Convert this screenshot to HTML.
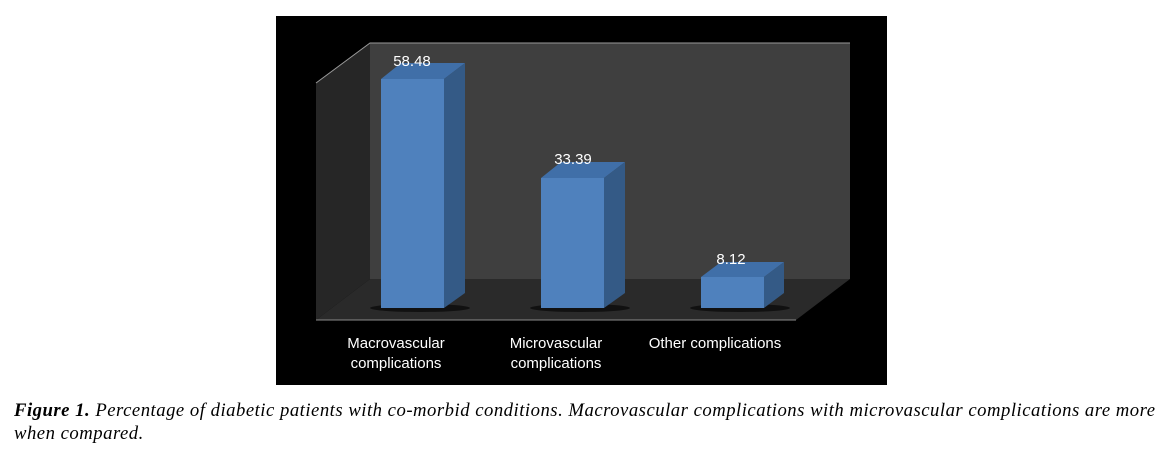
<!DOCTYPE html>
<html><head><meta charset="utf-8"><style>
body{margin:0;background:#fff;width:1169px;height:455px;overflow:hidden;position:relative}
.cap{position:absolute;left:14px;top:399px;width:1152px;font:italic 18.7px "Liberation Serif",serif;line-height:23px;color:#000;white-space:nowrap;letter-spacing:0.5px}
</style></head><body>
<svg width="1169" height="455" style="position:absolute;left:0;top:0" font-family="Liberation Sans, sans-serif">
<rect x="276" y="16" width="611" height="369" fill="#000"/>
<polygon points="316,83 370,43 370,279 316,320" fill="#262626"/>
<rect x="370" y="43" width="480" height="236" fill="#3f3f3f"/>
<polygon points="370,279 850,279 796,320 316,320" fill="#2a2a2a"/>
<polyline points="316,83 370,43 850,43" fill="none" stroke="#9a9a9a" stroke-width="1"/>
<line x1="316" y1="320" x2="796" y2="320" stroke="#8a8a8a"/>
<g>
<ellipse cx="420" cy="308" rx="50" ry="4" fill="#111"/>
<polygon points="381,79 401,63 465,63 444,79" fill="#406fa8"/>
<polygon points="444,79 465,63 465,293 444,308" fill="#345a86"/>
<rect x="381" y="79" width="63" height="229" fill="#4f81bd"/>
<ellipse cx="580" cy="308" rx="50" ry="4" fill="#111"/>
<polygon points="541,178 561,162 625,162 604,178" fill="#406fa8"/>
<polygon points="604,178 625,162 625,293 604,308" fill="#345a86"/>
<rect x="541" y="178" width="63" height="130" fill="#4f81bd"/>
<ellipse cx="740" cy="308" rx="50" ry="4" fill="#111"/>
<polygon points="701,277 721,262 784,262 764,277" fill="#406fa8"/>
<polygon points="764,277 784,262 784,293 764,308" fill="#345a86"/>
<rect x="701" y="277" width="63" height="31" fill="#4f81bd"/>
</g>
<g fill="#fff" font-size="15" text-anchor="middle">
<text x="412" y="66">58.48</text>
<text x="573" y="164">33.39</text>
<text x="731" y="264">8.12</text>
<text x="396" y="348">Macrovascular</text>
<text x="396" y="368">complications</text>
<text x="556" y="348">Microvascular</text>
<text x="556" y="368">complications</text>
<text x="715" y="348">Other complications</text>
</g>
</svg>
<div class="cap"><b>Figure 1.</b> Percentage of diabetic patients with co-morbid conditions. Macrovascular complications with microvascular complications are more<br>when compared.</div>
</body></html>
